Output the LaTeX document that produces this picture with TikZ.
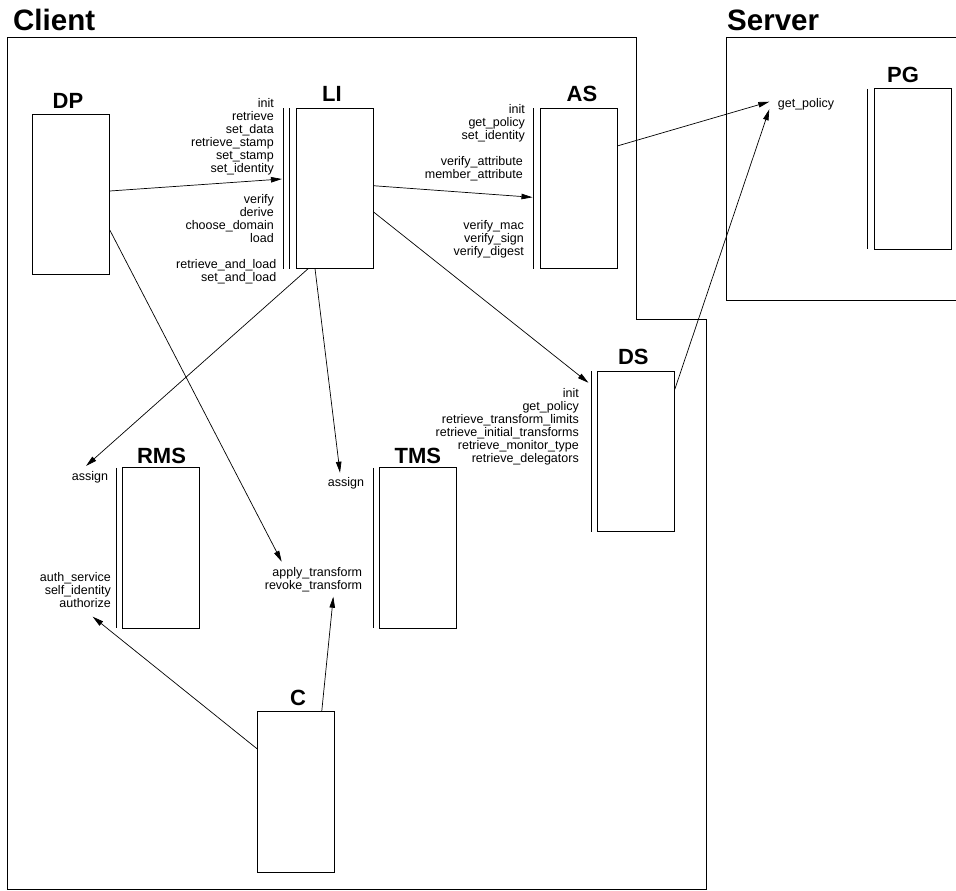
\documentclass[tikz,border=0pt]{standalone}
\usepackage{fontspec}
\setmainfont{Liberation Sans}
\usetikzlibrary{arrows.meta}

\tikzset{
  comp/.style={draw, line width=0.9pt, minimum width=77pt, minimum height=160.5pt, inner sep=0pt, outer sep=0pt},
  compname/.style={font=\fontsize{22}{24}\selectfont\bfseries, inner sep=0pt, anchor=base},
  zone/.style={font=\fontsize{29.5}{32}\selectfont\bfseries, inner sep=0pt, anchor=base west},
  calls/.style={font=\fontsize{12.5}{12.9}\selectfont, text width=200pt, align=right, inner sep=0pt, anchor=base east},
  call/.style={-{Triangle[length=11pt,width=5.5pt]}, line width=0.7pt},
}

\begin{document}
\begin{tikzpicture}[x=1pt, y=-1pt]
  \useasboundingbox (0,0) rectangle (956,891);

  % client and server areas
  \draw[line width=0.9pt] (7,37.3) -- (636.3,37.3) -- (636.3,319.3) -- (706.7,319.3) -- (706.7,889.5) -- (7,889.5) -- cycle;
  \draw[line width=0.9pt] (956,37.3) -- (726,37.3) -- (726,300.5) -- (956,300.5);
  \node[zone] (client) at (13,30.5) {Client};
  \node[zone] (server) at (727,30.5) {Server};

  % components
  \node[comp] (DP) at (71.3,194.6) {};
  \node[comp] (LI) at (334.7,188.3) {};
  \node[comp] (AS) at (578.7,188.3) {};
  \node[comp] (PG) at (912.5,169.2) {};
  \node[comp] (DS) at (636.3,451.3) {};
  \node[comp] (RMS) at (161.3,548) {};
  \node[comp] (TMS) at (418,548) {};
  \node[comp] (C) at (296.2,792) {};

  \node[compname] (DPname) at (68,108.3) {DP};
  \node[compname] (LIname) at (332,101.7) {LI};
  \node[compname] (ASname) at (582,101.7) {AS};
  \node[compname] (PGname) at (903,82.7) {PG};
  \node[compname] (DSname) at (633.3,364.3) {DS};
  \node[compname] (RMSname) at (161.5,463.3) {RMS};
  \node[compname] (TMSname) at (417.8,463.3) {TMS};
  \node[compname] (Cname) at (298,705) {C};

  % interface bars
  \foreach \b in {LI,AS,PG,DS,RMS,TMS}
    \draw[line width=0.9pt] ([xshift=-6.3pt]\b.north west) -- ([xshift=-6.3pt]\b.south west);
  \draw[line width=0.9pt] ([xshift=-12.4pt]LI.north west) -- ([xshift=-12.4pt]LI.south west);

  % method names
  \node[calls] (LIa) at (274,107.5) {init\\retrieve\\set\_data\\retrieve\_stamp\\set\_stamp\\set\_identity};
  \node[calls] (LIb) at (274,203.5) {verify\\derive\\choose\_domain\\load};
  \node[calls] (LIc) at (276.5,268.5) {retrieve\_and\_load\\set\_and\_load};
  \node[calls] (ASa) at (525,113.5) {init\\get\_policy\\set\_identity};
  \node[calls] (ASb) at (523,165.2) {verify\_attribute\\member\_attribute};
  \node[calls] (ASc) at (524,229.5) {verify\_mac\\verify\_sign\\verify\_digest};
  \node[calls] (DSa) at (579,397.8) {init\\get\_policy\\retrieve\_transform\_limits\\retrieve\_initial\_transforms\\retrieve\_monitor\_type\\retrieve\_delegators};
  \node[calls] (RMSa) at (108.3,480.2) {assign};
  \node[calls] (RMSb) at (111,581.2) {auth\_service\\self\_identity\\authorize};
  \node[calls] (TMSa) at (364.3,486.2) {assign};
  \node[calls] (TMSb) at (362.3,576.2) {apply\_transform\\revoke\_transform};
  \node[font=\fontsize{12.5}{12.9}\selectfont, inner sep=0pt, anchor=base west] (PGa) at (777.7,107.5) {get\_policy};

  % calls
  \draw[call] ([shift={(0,-3.6)}]DP.east) -- ([shift={(-14.3,-9.3)}]LI.west);
  \draw[call] ([shift={(0,35.4)}]DP.east) -- ([shift={(-80.6,-14.5)}]TMSb.base east);
  \draw[call] ([shift={(0,-2.6)}]LI.east) -- ([shift={(-7.7,9)}]AS.west);
  \draw[call] ([shift={(0,23.4)}]LI.east) -- ([shift={(-9.4,11.7)}]DS.north west);
  \draw[call] ([shift={(-26.4,0)}]LI.south) -- ([shift={(-22.3,-14.2)}]RMSa.base east);
  \draw[call] ([shift={(-19.7,0)}]LI.south) -- ([shift={(-24.3,-13.5)}]TMSa.base east);
  \draw[call] ([shift={(0,-42.3)}]AS.east) -- ([shift={(-8.4,-5.8)}]PGa.base west);
  \draw[call] ([shift={(0,-62)}]DS.east) -- ([shift={(-8.4,1.8)}]PGa.base west);
  \draw[call] ([shift={(25.5,0)}]C.north) -- ([shift={(-29,20.5)}]TMSb.base east);
  \draw[call] ([shift={(0,-42.7)}]C.west) -- ([shift={(-18.3,35.5)}]RMSb.base east);
\end{tikzpicture}
\end{document}
